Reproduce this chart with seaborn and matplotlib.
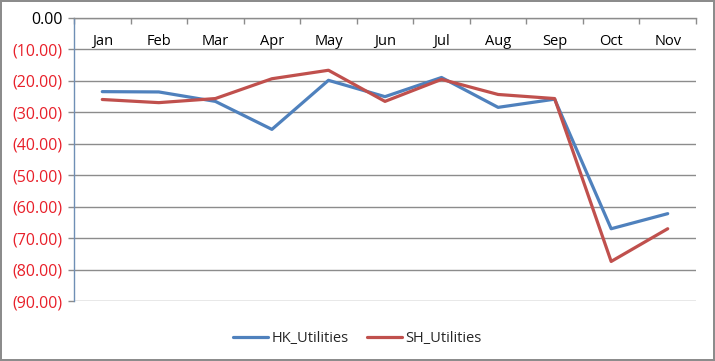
import matplotlib
matplotlib.use("Agg")
import matplotlib.pyplot as plt
import seaborn as sns
import pandas as pd
from matplotlib.ticker import FixedLocator, FuncFormatter

months = ["Jan", "Feb", "Mar", "Apr", "May", "Jun", "Jul", "Aug", "Sep", "Oct", "Nov"]
hk_utilities = [-23.4, -23.5, -26.5, -35.4, -19.8, -25.0, -18.9, -28.4, -25.8, -67.0, -62.2]
sh_utilities = [-25.9, -26.9, -25.6, -19.3, -16.6, -26.5, -19.5, -24.3, -25.6, -77.4, -67.0]
series_names = ["HK_Utilities", "SH_Utilities"]
y_ticks = [0, -10, -20, -30, -40, -50, -60, -70, -80, -90]

df = pd.DataFrame({
    "Month": months * 2,
    "Value": hk_utilities + sh_utilities,
    "Series": [series_names[0]] * len(months) + [series_names[1]] * len(months),
})

sns.set_theme(style="white")
plt.rcParams["font.family"] = ["Open Sans", "DejaVu Sans"]

fig = plt.figure(figsize=(7.15, 3.61), dpi=100, edgecolor="#8c8c8c", linewidth=1.5)
ax = fig.add_axes([0.1035, 0.166, 0.8699, 0.784])

sns.lineplot(data=df, x="Month", y="Value", hue="Series", sort=False,
             palette={"HK_Utilities": "#4F81BD", "SH_Utilities": "#C0504D"},
             linewidth=2.3, ax=ax, legend=True)

ax.set_xlim(-0.5, len(months) - 0.5)
ax.set_ylim(-90, 0)
ax.set_xlabel("")
ax.set_ylabel("")

# y axis
ax.yaxis.set_major_locator(FixedLocator(y_ticks))
ax.yaxis.set_major_formatter(FuncFormatter(lambda v, p: "0.00" if v == 0 else f"({abs(v):.2f})"))
ax.tick_params(axis="y", which="major", left=True, length=4, width=1, color="#8c8c8c",
               labelsize=11.5, pad=4)
for lbl in ax.get_yticklabels():
    txt = lbl.get_text()
    lbl.set_color("black" if txt == "0.00" else "#E8202A")
ax.yaxis.grid(True, color="#8c8c8c", linewidth=1)
ax.set_axisbelow(True)

# x axis at top
ax.xaxis.set_ticks_position("top")
ax.xaxis.set_label_position("top")
ax.set_xticks(range(len(months)))
ax.set_xticklabels(months)
ax.set_xticks([i - 0.5 for i in range(len(months) + 1)], minor=True)
ax.tick_params(axis="x", which="major", top=False, bottom=False, length=0,
               labelsize=10.5, pad=-22, labelcolor="black")
ax.tick_params(axis="x", which="minor", top=True, bottom=False, direction="in",
               length=4, width=1, color="#8c8c8c")

for s in ["right", "bottom"]:
    ax.spines[s].set_visible(False)
ax.spines["top"].set_color("#8c8c8c")
ax.spines["top"].set_linewidth(1)
ax.spines["left"].set_color("#6f8fb5")
ax.spines["left"].set_linewidth(1)

leg = ax.legend(loc="upper center", bbox_to_anchor=(0.5, 0.12), bbox_transform=fig.transFigure,
                ncol=2, frameon=False,
                fontsize=10.5, handlelength=2.4, handletextpad=0.2, columnspacing=1.3)

fig.savefig("out.png", dpi=100, edgecolor=fig.get_edgecolor())
